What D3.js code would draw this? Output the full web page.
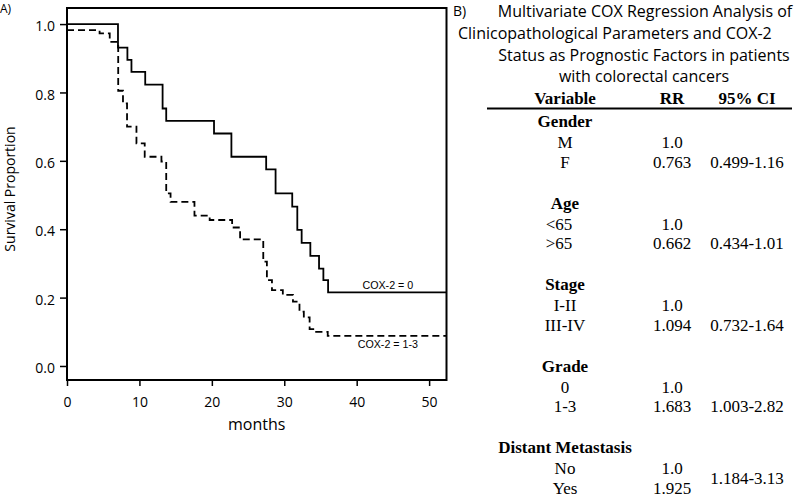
<!DOCTYPE html>
<html><head><meta charset="utf-8">
<script src="https://cdn.jsdelivr.net/npm/d3@7"></script>
<style>
html,body{margin:0;padding:0;background:#fff;}
svg{display:block;}
</style></head>
<body>
<svg id="c" width="800" height="497"></svg>
<script>
// ---- Data: Kaplan-Meier curves (months, survival proportion) ----
const cox0Months = [0, 7.04, 8.34, 8.9, 10.8, 13.2, 13.7, 20.3, 22.7, 27.5, 28.8, 31.1, 31.8, 32.4, 33.6, 34.8, 35.4, 36.05];
const cox0Surv   = [1.0, 0.931, 0.895, 0.86, 0.823, 0.753, 0.717, 0.68, 0.612, 0.575, 0.505, 0.466, 0.398, 0.36, 0.322, 0.285, 0.251, 0.215];
const cox13Months = [0, 4.5, 5.9, 7.07, 7.73, 8.29, 9.59, 10.73, 13.04, 13.7, 14.3, 17.6, 19.7, 22.8, 23.9, 27.1, 27.6, 28.3, 29.8, 31.2, 32.1, 32.7, 33.5, 34.4, 36.0];
const cox13Surv   = [0.982, 0.973, 0.948, 0.805, 0.768, 0.70, 0.651, 0.612, 0.598, 0.505, 0.48, 0.44, 0.427, 0.405, 0.37, 0.305, 0.251, 0.222, 0.208, 0.188, 0.159, 0.142, 0.108, 0.10, 0.088];
const followUpEnd = 52.4;
const seriesLabels = ["COX-2 = 0", "COX-2 = 1-3"];
const xTicks = [0, 10, 20, 30, 40, 50];
const yTicks = [0.0, 0.2, 0.4, 0.6, 0.8, 1.0];
const xTitle = "months";
const yTitle = "Survival Proportion";

// ---- Data: Cox regression table ----
const titleLines = ["Multivariate COX Regression Analysis of", "Clinicopathological Parameters and COX-2", "Status as Prognostic Factors in patients", "with colorectal cancers"];
const headers = ["Variable", "RR", "95% CI"];
const groups = ["Gender", "Age", "Stage", "Grade", "Distant Metastasis"];
const levels = [["M", "F"], ["<65", ">65"], ["I-II", "III-IV"], ["0", "1-3"], ["No", "Yes"]];
const rr = [["1.0", "0.763"], ["1.0", "0.662"], ["1.0", "1.094"], ["1.0", "1.683"], ["1.0", "1.925"]];
const ci = ["0.499-1.16", "0.434-1.01", "0.732-1.64", "1.003-2.82", "1.184-3.13"];

const svg = d3.select("#c");
const sans = "'Open Sans', sans-serif";
const serif = "'Liberation Serif', 'Times New Roman', serif";

// ---- Panel A ----
const L = 67, R = 446.5, T = 8, B = 380;
const x = d3.scaleLinear().domain([0, followUpEnd]).range([L, R]);
const y = d3.scaleLinear().domain([-0.041, 1.047]).range([B, T]);

svg.append("text").attr("x", 0).attr("y", 13).attr("font-family", sans).attr("font-size", 12).text("A)");

const xAxis = svg.append("g").attr("transform", `translate(0,${B})`)
  .call(d3.axisBottom(x).tickValues(xTicks).tickFormat(d3.format("d")).tickSize(6).tickPadding(11));
const yAxis = svg.append("g").attr("transform", `translate(${L},0)`)
  .call(d3.axisLeft(y).tickValues(yTicks).tickFormat(d3.format(".1f")).tickSize(7).tickPadding(5));
[xAxis, yAxis].forEach(g => {
  g.select(".domain").remove();
  g.selectAll(".tick line").attr("stroke", "#000").attr("stroke-width", 1.5);
  g.selectAll(".tick text").attr("font-family", sans).attr("font-size", 14).attr("fill", "#000");
});
yAxis.selectAll(".tick text").attr("dy", "0.47em");

// frame
svg.append("rect").attr("x", L).attr("y", T).attr("width", R - L).attr("height", B - T)
  .attr("fill", "none").attr("stroke", "#000").attr("stroke-width", 2);

const line = d3.line().x(d => x(d[0])).y(d => y(d[1])).curve(d3.curveStepAfter);
function pts(ms, ss) {
  const p = ms.map((m, i) => [m, ss[i]]);
  p.push([followUpEnd, ss[ss.length - 1]]);
  return p;
}
svg.append("path").attr("d", line(pts(cox0Months, cox0Surv)))
  .attr("fill", "none").attr("stroke", "#000").attr("stroke-width", 1.8);
svg.append("path").attr("d", line(pts(cox13Months, cox13Surv)))
  .attr("fill", "none").attr("stroke", "#000").attr("stroke-width", 1.8).attr("stroke-dasharray", "7,4");

svg.append("text").attr("x", x(44.3)).attr("y", y(cox0Surv[cox0Surv.length - 1]) - 3)
  .attr("text-anchor", "middle").attr("font-family", "'Liberation Sans', Arial, sans-serif").attr("font-size", 10.7)
  .text(seriesLabels[0]);
svg.append("text").attr("x", x(44.3)).attr("y", y(cox13Surv[cox13Surv.length - 1]) + 12)
  .attr("text-anchor", "middle").attr("font-family", "'Liberation Sans', Arial, sans-serif").attr("font-size", 10.7)
  .text(seriesLabels[1]);

svg.append("text").attr("x", (L + R) / 2).attr("y", 430).attr("text-anchor", "middle")
  .attr("font-family", sans).attr("font-size", 16).text(xTitle);
svg.append("text").attr("transform", `translate(15,${(T + B) / 2 - 5}) rotate(-90)`).attr("text-anchor", "middle")
  .attr("font-family", sans).attr("font-size", 14).text(yTitle);

// ---- Panel B ----
svg.append("text").attr("x", 453).attr("y", 16).attr("font-family", sans).attr("font-size", 14).text("B)");
const titleX = [645, 458, 644, 644];
const titleAnchor = ["middle", "start", "middle", "middle"];
titleLines.forEach((t, i) => {
  svg.append("text").attr("x", titleX[i]).attr("y", 17 + i * 21.8).attr("text-anchor", titleAnchor[i])
    .attr("font-family", sans).attr("font-size", 16).text(t);
});

const colX = [565, 672, 747];
headers.forEach((h, i) => {
  svg.append("text").attr("x", colX[i]).attr("y", 103.5).attr("text-anchor", "middle")
    .attr("font-family", serif).attr("font-weight", "bold").attr("font-size", 17).text(h);
});
svg.append("line").attr("x1", 487).attr("x2", 792).attr("y1", 108.5).attr("y2", 108.5)
  .attr("stroke", "#000").attr("stroke-width", 2);

groups.forEach((g, gi) => {
  const y0 = 127 + gi * 81.5;
  svg.append("text").attr("x", colX[0]).attr("y", y0).attr("text-anchor", "middle")
    .attr("font-family", serif).attr("font-weight", "bold").attr("font-size", 17).text(g);
  levels[gi].forEach((lv, li) => {
    const yy = y0 + 21 + li * 19.5;
    svg.append("text").attr("x", colX[0] - (gi === 1 ? 6 : 0)).attr("y", yy).attr("text-anchor", "middle")
      .attr("font-family", serif).attr("font-size", 17).text(lv);
    svg.append("text").attr("x", colX[1]).attr("y", yy).attr("text-anchor", "middle")
      .attr("font-family", serif).attr("font-size", 17).text(rr[gi][li]);
  });
  const last = gi === groups.length - 1;
  svg.append("text").attr("x", colX[2]).attr("y", last ? y0 + 31 : y0 + 40.5).attr("text-anchor", "middle")
    .attr("font-family", serif).attr("font-size", 17).text(ci[gi]);
});
</script>
</body></html>
